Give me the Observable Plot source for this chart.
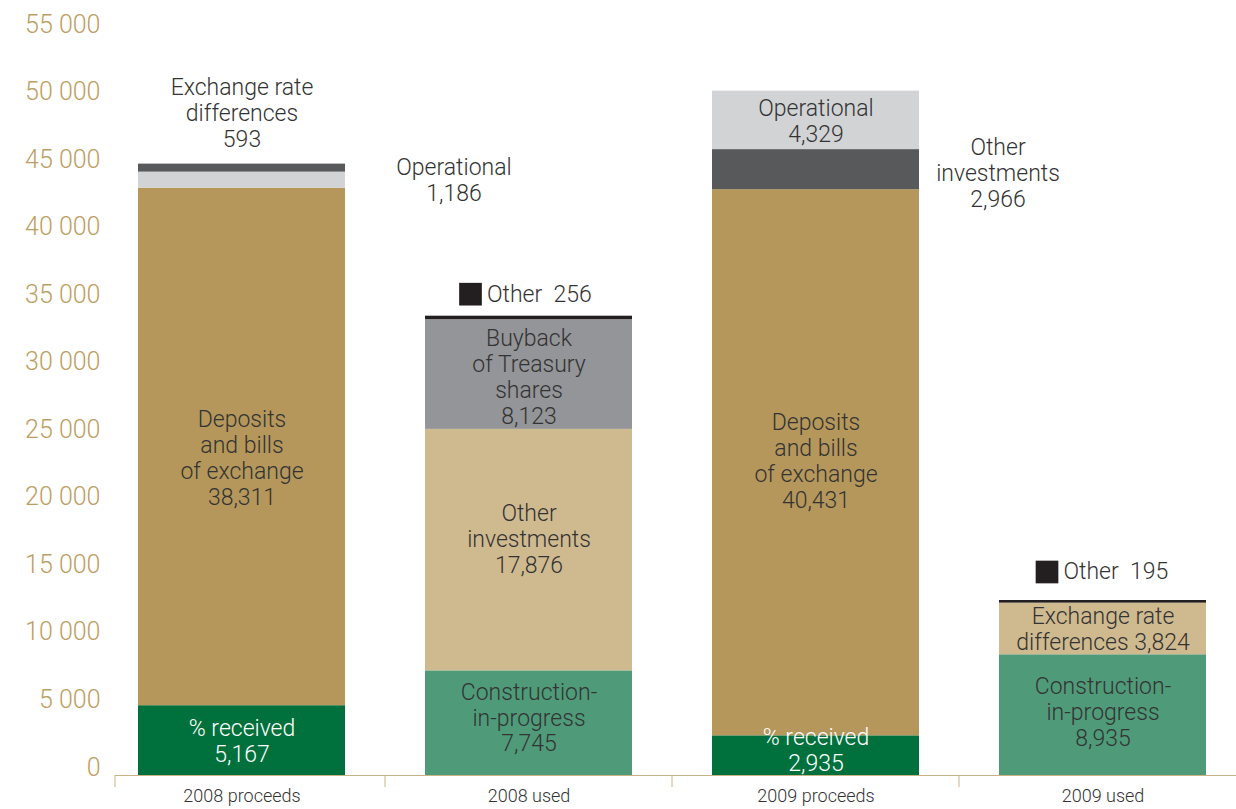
<!DOCTYPE html>
<html><head><meta charset="utf-8">
<script src="https://cdn.jsdelivr.net/npm/d3@7"></script>
<script src="https://cdn.jsdelivr.net/npm/@observablehq/plot@0.6"></script>
<style>html,body{margin:0;padding:0;background:#fff;} svg{display:block;}</style>
</head><body><div id="chart"></div>
<script>
// ---- data ----
const categories = ["2008 proceeds", "2008 used", "2009 proceeds", "2009 used"];

const proceeds2008Names  = ["% received", "Deposits and bills of exchange", "Operational", "Exchange rate differences"];
const proceeds2008Values = [5167, 38311, 1186, 593];
const proceeds2008Labels = ["% received", "Deposits\nand bills\nof exchange", "Operational", "Exchange rate\ndifferences"];

const used2008Names  = ["Construction-in-progress", "Other investments", "Buyback of Treasury shares", "Other"];
const used2008Values = [7745, 17876, 8123, 256];
const used2008Labels = ["Construction-\nin-progress", "Other\ninvestments", "Buyback\nof Treasury\nshares", "Other"];

const proceeds2009Names  = ["% received", "Deposits and bills of exchange", "Other investments", "Operational"];
const proceeds2009Values = [2935, 40431, 2966, 4329];
const proceeds2009Labels = ["% received", "Deposits\nand bills\nof exchange", "Other\ninvestments", "Operational"];

const used2009Names  = ["Construction-in-progress", "Exchange rate differences", "Other"];
const used2009Values = [8935, 3824, 195];
const used2009Labels = ["Construction-\nin-progress", "Exchange rate\ndifferences", "Other"];

const yTicks = [0, 5000, 10000, 15000, 20000, 25000, 30000, 35000, 40000, 45000, 50000, 55000];
const yTickLabels = ["0", "5 000", "10 000", "15 000", "20 000", "25 000", "30 000", "35 000", "40 000", "45 000", "50 000", "55 000"];

// ---- styles / layout ----
const palette = {
  deepGreen: "#00713c", gold: "#b5975b", paleGray: "#d2d3d5", charcoal: "#58595b",
  midGreen: "#4f9b79", sand: "#cfba90", stone: "#939598", ink: "#231f20"
};
const TXT = "#333333", WHITE = "#ffffff";
// mode: in (centered in segment), right (beside bar), above (above bar top), legend (square + text above bar)
const layout = {
  "2008 proceeds": [
    {tone: "deepGreen", mode: "in", ink: WHITE, dy: 0},
    {tone: "gold", mode: "in", ink: TXT, dy: 11},
    {tone: "paleGray", mode: "right", ink: TXT, dx: 212, dy: 0},
    {tone: "charcoal", mode: "above", ink: TXT, dy: -51}
  ],
  "2008 used": [
    {tone: "midGreen", mode: "in", ink: TXT, dy: -6},
    {tone: "sand", mode: "in", ink: TXT, dy: -11},
    {tone: "stone", mode: "in", ink: TXT, dy: 2},
    {tone: "ink", mode: "legend", ink: TXT, dx: -42, sdx: -58.5, dy: -22}
  ],
  "2009 proceeds": [
    {tone: "deepGreen", mode: "in", ink: WHITE, dy: -6},
    {tone: "gold", mode: "in", ink: TXT, dy: -2},
    {tone: "charcoal", mode: "right", ink: TXT, dx: 182, dy: 3},
    {tone: "paleGray", mode: "in", ink: TXT, dy: 0}
  ],
  "2009 used": [
    {tone: "midGreen", mode: "in", ink: TXT, dy: -3},
    {tone: "sand", mode: "in", ink: TXT, dy: 0, sep: " "},
    {tone: "ink", mode: "legend", ink: TXT, dx: -39.5, sdx: -56, dy: -28.5}
  ]
};

const groups = [
  [categories[0], proceeds2008Names, proceeds2008Values, proceeds2008Labels],
  [categories[1], used2008Names, used2008Values, used2008Labels],
  [categories[2], proceeds2009Names, proceeds2009Values, proceeds2009Labels],
  [categories[3], used2009Names, used2009Values, used2009Labels]
];

const fmt = d3.format(",");
const rows = [];
groups.forEach(([cat, names, values, labels]) => {
  const total = d3.sum(values);
  let base = 0;
  names.forEach((name, i) => {
    const L = layout[cat][i];
    const sep = L.mode === "legend" ? "\u00a0\u00a0" : (L.sep || "\n");
    rows.push({
      cat, name, value: values[i], y1: base, y2: base + values[i],
      mid: base + values[i] / 2, total,
      text: labels[i] + sep + fmt(values[i]), L
    });
    base += values[i];
  });
});

const FONT = 23;
const labelMarks = [];
rows.forEach(r => {
  const L = r.L;
  const yField = (L.mode === "above" || L.mode === "legend") ? "total" : "mid";
  if (L.mode === "legend") {
    labelMarks.push(Plot.dot([r], {x: "cat", y: "total", symbol: "square", r: 12.8, fill: palette.ink, stroke: null, dx: L.sdx, dy: L.dy}));
    labelMarks.push(Plot.text([r], {x: "cat", y: "total", text: "text", textAnchor: "start", dx: L.dx, dy: L.dy, fill: L.ink, fontSize: FONT}));
  } else {
    labelMarks.push(Plot.text([r], {x: "cat", y: yField, text: "text", textAnchor: "middle", lineAnchor: "middle",
      lineHeight: 1.13, dx: L.dx || 0, dy: L.dy || 0, fill: L.ink, fontSize: FONT}));
  }
});

const chart = Plot.plot({
  width: 1236, height: 809,
  marginLeft: 115, marginRight: 0, marginTop: 32, marginBottom: 34,
  style: {fontFamily: "Roboto, 'Open Sans', sans-serif", fontWeight: 300, color: TXT, background: "#fff"},
  x: {domain: categories, range: [97, 1246], paddingInner: 0.28, paddingOuter: 0.14, axis: null},
  y: {domain: [0, 55000], axis: null},
  color: {domain: Object.keys(palette), range: Object.values(palette)},
  marks: [
    Plot.barY(rows, {x: "cat", y1: "y1", y2: "y2", fill: d => d.L.tone}),
    Plot.ruleY([0], {stroke: "#c9b283", strokeWidth: 1}),
    Plot.axisY({ticks: yTicks, tickFormat: d => yTickLabels[yTicks.indexOf(d)], tickSize: 0, tickPadding: 15,
      dy: -8, fontSize: 25, fill: "#bc9e63", label: null}),
    Plot.axisX({tickSize: 0, tickPadding: 14, fontSize: 18, fill: TXT, label: null}),
    ...labelMarks
  ]
});

document.getElementById("chart").appendChild(chart);

// category separator ticks below the baseline, from the library's own scales
const xs = chart.scale("x"), ys = chart.scale("y");
const y0 = ys.apply(0);
const gap = xs.step - xs.bandwidth;
const sepX = [115].concat(categories.slice(1).map(c => xs.apply(c) - gap / 2));
d3.select(chart).append("g").selectAll("line").data(sepX).join("line")
  .attr("x1", d => d).attr("x2", d => d).attr("y1", y0).attr("y2", y0 + 12)
  .attr("stroke", "#c9b283").attr("stroke-width", 1);
</script>
</body></html>
